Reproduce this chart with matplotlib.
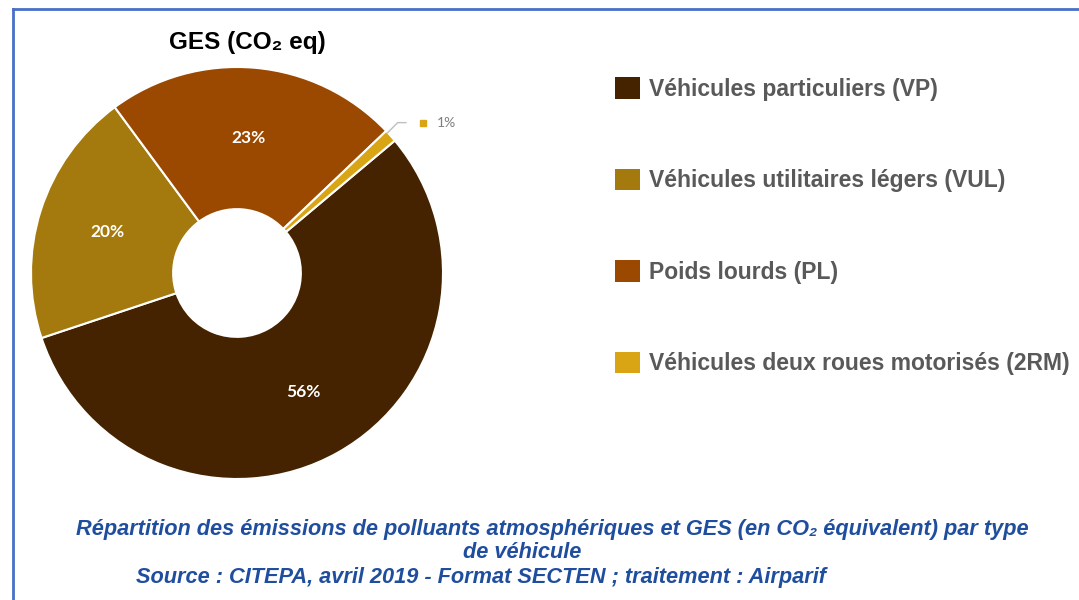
''' Donut chart: GES (CO2 eq) emissions by vehicle type '''

import matplotlib
matplotlib.use("Agg")
from matplotlib import pyplot as plt
from matplotlib.patches import Patch
from matplotlib.lines import Line2D

categories = ["Véhicules particuliers (VP)",
              "Véhicules utilitaires légers (VUL)",
              "Poids lourds (PL)",
              "Véhicules deux roues motorisés (2RM)"]
shares = [56, 20, 23, 1]
colors = ["#462300", "#A47A0E", "#9B4800", "#D9A514"]

W, H = 1079, 600
fig = plt.figure(figsize=(W / 100, H / 100), dpi=100)

# blue frame (top and left edges visible)
fig.add_artist(Line2D([13 / W, 1], [1 - 9 / H, 1 - 9 / H], color="#4A6FC8", lw=2))
fig.add_artist(Line2D([13 / W, 13 / W], [0, 1 - 9 / H], color="#4A6FC8", lw=2))

# donut axes, centre (237, 273) px, radius 206 px
cx, cy, r = 237, 273, 206
ax = fig.add_axes([(cx - r) / W, (H - cy - r) / H, 2 * r / W, 2 * r / H])
wedges, texts, autotexts = ax.pie(
    shares, colors=colors, startangle=40, counterclock=False,
    wedgeprops=dict(width=0.69, edgecolor="white", linewidth=1.5),
    autopct="%d%%", pctdistance=0.66,
    textprops=dict(color="white", fontsize=12.5, fontweight="bold", family="Lato"))
ax.set_xlim(-1, 1)
ax.set_ylim(-1, 1)

# the 1% slice gets an outside label with a leader line
autotexts[3].set_visible(False)
ax.plot([0.73, 0.78, 0.82], [0.68, 0.73, 0.73], color="#BFBFBF", lw=1)
ax.plot([0.905], [0.73], marker="s", ms=5, color=colors[3], clip_on=False)
ax.text(0.97, 0.73, f"{shares[3]}%", color="#7F7F7F", fontsize=10,
        family="Lato", va="center", ha="left", clip_on=False)

fig.text(247 / W, 1 - 42 / H, "GES (CO₂ eq)", ha="center", va="center",
         fontsize=17.5, fontweight="bold", family=["Liberation Sans", "DejaVu Sans"])

handles = [Patch(facecolor=c, edgecolor="none") for c in colors]
leg = fig.legend(handles, categories, loc="upper left",
                 bbox_to_anchor=(606 / W, 1 - 68 / H), frameon=False,
                 prop=dict(family="Liberation Sans", weight="bold", size=16.5),
                 handlelength=1.08, handleheight=1.08, handletextpad=0.4,
                 labelspacing=2.96, borderaxespad=0)
for t in leg.get_texts():
    t.set_color("#595959")

cap = dict(color="#1F4E9F", fontsize=15.7, fontweight="bold", style="italic",
           family=["Liberation Sans", "DejaVu Sans"],
           ha="center", va="center")
fig.text(552 / W, 1 - 530 / H,
         "Répartition des émissions de polluants atmosphériques et GES (en CO₂ équivalent) par type", **cap)
fig.text(522 / W, 1 - 553 / H, "de véhicule", **cap)
fig.text(481 / W, 1 - 577 / H,
         "Source : CITEPA, avril 2019 - Format SECTEN ; traitement : Airparif", **cap)

fig.savefig("out.png", dpi=100)
